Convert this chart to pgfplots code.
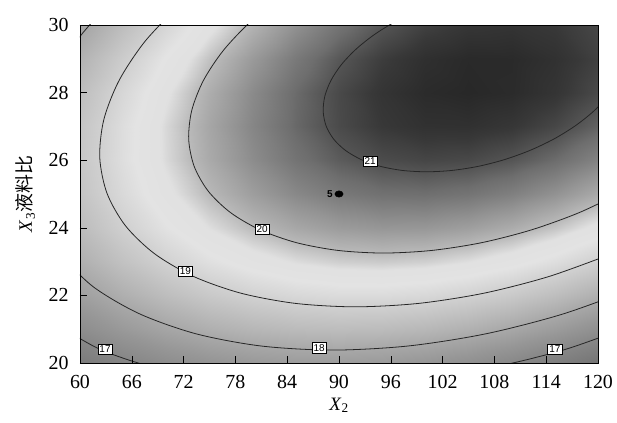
\documentclass[border=0pt]{standalone}
\usepackage{pgfplots}
\pgfplotsset{compat=1.18}
\usepackage{fontspec}
\setmainfont{Liberation Serif}
\newfontfamily\cjk{Noto Sans CJK SC}
\newfontfamily\lsans{Liberation Sans}
\begin{document}
\begin{tikzpicture}
\useasboundingbox (-80bp,-60bp) rectangle (537bp,363bp);
\begin{axis}[at={(0,0)}, anchor=south west, scale only axis,
  width=518bp, height=338bp,
  xmin=60, xmax=120, ymin=20, ymax=30,
  xtick={60,66,...,120}, ytick={20,22,...,30},
  tick align=inside, xtick pos=left, ytick pos=left,
  major tick length=7bp, tick style={black, line width=0.6pt},
  tick label style={font=\fontsize{20}{22}\selectfont},
  xticklabel style={yshift=-9bp},
  yticklabel style={xshift=-8bp},
  /pgf/number format/assume math mode=true,
  xlabel={\textit{X}\textsubscript{2}},
  ylabel={\textit{X}\textsubscript{3}{\cjk 液料比}},
  xlabel style={at={([yshift=-47bp]axis description cs:0.5,0)}, anchor=base},
  ylabel style={at={([xshift=-48bp]axis description cs:0,0.5)}, anchor=base},
  label style={font=\fontsize{19}{21}\selectfont},
  axis line style={black, line width=0.8pt},
  colormap={resp}{gray(16.2cm)=(0.45); gray(17cm)=(0.53); gray(17.5cm)=(0.59); gray(18cm)=(0.66); gray(18.5cm)=(0.74); gray(19cm)=(0.82); gray(19.4cm)=(0.89); gray(19.7cm)=(0.88); gray(20cm)=(0.72); gray(20.4cm)=(0.58); gray(20.8cm)=(0.43); gray(21cm)=(0.32); gray(21.2cm)=(0.22); gray(21.4cm)=(0.15)},
  point meta min=16.2, point meta max=21.4,
  axis on top]
\addplot[surf, shader=interp, mesh/cols=13, point meta=explicit] table[x=x, y=y, meta=z] {
x y z
60 20 16.529
65 20 16.894
70 20 17.189
75 20 17.414
80 20 17.568
85 20 17.652
90 20 17.665
95 20 17.608
100 20 17.481
105 20 17.282
110 20 17.014
115 20 16.675
120 20 16.266
60 21 17.194
65 21 17.588
70 21 17.912
75 21 18.166
80 21 18.349
85 21 18.462
90 21 18.505
95 21 18.476
100 21 18.378
105 21 18.209
110 21 17.969
115 21 17.660
120 21 17.280
60 22 17.741
65 22 18.164
70 22 18.517
75 22 18.800
80 22 19.013
85 22 19.155
90 22 19.226
95 22 19.227
100 22 19.158
105 22 19.018
110 22 18.807
115 22 18.527
120 22 18.176
60 23 18.169
65 23 18.621
70 23 19.003
75 23 19.315
80 23 19.557
85 23 19.728
90 23 19.829
95 23 19.859
100 23 19.819
105 23 19.708
110 23 19.526
115 23 19.275
120 23 18.953
60 24 18.479
65 24 18.960
70 24 19.371
75 24 19.712
80 24 19.983
85 24 20.183
90 24 20.313
95 24 20.372
100 24 20.361
105 24 20.279
110 24 20.127
115 24 19.905
120 24 19.612
60 25 18.670
65 25 19.181
70 25 19.622
75 25 19.992
80 25 20.292
85 25 20.521
90 25 20.680
95 25 20.768
100 25 20.786
105 25 20.733
110 25 20.610
115 25 20.417
120 25 20.153
60 26 18.743
65 26 19.283
70 26 19.753
75 26 20.152
80 26 20.481
85 26 20.739
90 26 20.927
95 26 21.045
100 26 21.092
105 26 21.068
110 26 20.974
115 26 20.810
120 26 20.575
60 27 18.698
65 27 19.267
70 27 19.766
75 27 20.194
80 27 20.552
85 27 20.840
90 27 21.057
95 27 21.203
100 27 21.279
105 27 21.285
110 27 21.220
115 27 21.085
120 27 20.880
60 28 18.534
65 28 19.132
70 28 19.660
75 28 20.117
80 28 20.505
85 28 20.821
90 28 21.067
95 28 21.243
100 28 21.348
105 28 21.383
110 28 21.347
115 28 21.241
120 28 21.065
60 29 18.252
65 29 18.880
70 29 19.436
75 29 19.922
80 29 20.339
85 29 20.684
90 29 20.960
95 29 21.164
100 29 21.299
105 29 21.362
110 29 21.356
115 29 21.279
120 29 21.132
60 30 17.852
65 30 18.509
70 30 19.094
75 30 19.610
80 30 20.055
85 30 20.430
90 30 20.734
95 30 20.968
100 30 21.132
105 30 21.224
110 30 21.247
115 30 21.199
120 30 21.081
};
% contour lines
\addplot[black!85, line width=0.8pt, smooth] coordinates {(99.31,30.439) (96.57,30.106) (94.11,29.719) (92.00,29.291) (90.30,28.835) (89.08,28.365) (88.36,27.895) (88.17,27.439) (88.51,27.011) (89.38,26.624) (90.74,26.291) (92.56,26.020) (94.77,25.820) (97.32,25.698) (100.13,25.657) (103.10,25.698) (106.16,25.820) (109.20,26.020) (112.13,26.291) (114.87,26.624) (117.33,27.011) (119.45,27.439) (121.14,27.895) (122.36,28.365)};
\addplot[black!85, line width=0.8pt, smooth] coordinates {(83.80,30.921) (79.82,30.113) (76.62,29.252) (74.31,28.365) (72.95,27.478) (72.59,26.617) (73.24,25.809) (74.87,25.079) (77.44,24.449) (80.87,23.938) (85.06,23.561) (89.87,23.331) (95.16,23.253) (100.77,23.331) (106.54,23.561) (112.28,23.938) (117.82,24.449) (122.99,25.079)};
\addplot[black!85, line width=0.8pt, smooth] coordinates {(71.76,30.657) (67.57,29.529) (64.54,28.365) (62.76,27.201) (62.29,26.073) (63.14,25.013) (65.28,24.056) (68.65,23.230) (73.15,22.560) (78.63,22.066) (84.94,21.764) (91.88,21.662) (99.24,21.764) (106.80,22.066) (114.33,22.560) (121.59,23.230)};
\addplot[black!85, line width=0.8pt, smooth] coordinates {(57.55,23.234) (61.56,22.250) (66.92,21.452) (73.45,20.863) (80.97,20.503) (89.23,20.382) (98.00,20.503) (107.00,20.863) (115.97,21.452) (124.62,22.250)};
\addplot[black!85, line width=0.8pt, smooth] coordinates {(58.29,29.061) (60.28,29.751) (62.61,30.431)};
\addplot[black!85, line width=0.8pt, smooth] coordinates {(55.48,21.407) (61.57,20.498) (65.13,20.132) (69.00,19.829)};
\addplot[black!85, line width=0.8pt, smooth] coordinates {(107.18,19.829) (112.30,20.132) (117.38,20.498) (127.22,21.407)};
% design point
\addplot[only marks, mark=*, mark size=3.2bp, mark options={xscale=1.3, fill=black, draw=black}] coordinates {(90,25)};
\node[font=\lsans\bfseries\fontsize{10}{10}\selectfont, anchor=east, inner sep=1bp] at (axis cs:89.4,25) {5};
% contour labels
\tikzset{clab/.style={draw=black, fill=white, line width=0.4pt, inner sep=1.6bp, font=\lsans\fontsize{10}{10}\selectfont}}
\node[clab] at (axis cs:93.6,25.98) {21};
\node[clab] at (axis cs:81.1,23.95) {20};
\node[clab] at (axis cs:72.2,22.72) {19};
\node[clab] at (axis cs:87.7,20.45) {18};
\node[clab] at (axis cs:62.9,20.40) {17};
\node[clab] at (axis cs:115,20.40) {17};
\end{axis}
\end{tikzpicture}
\end{document}
